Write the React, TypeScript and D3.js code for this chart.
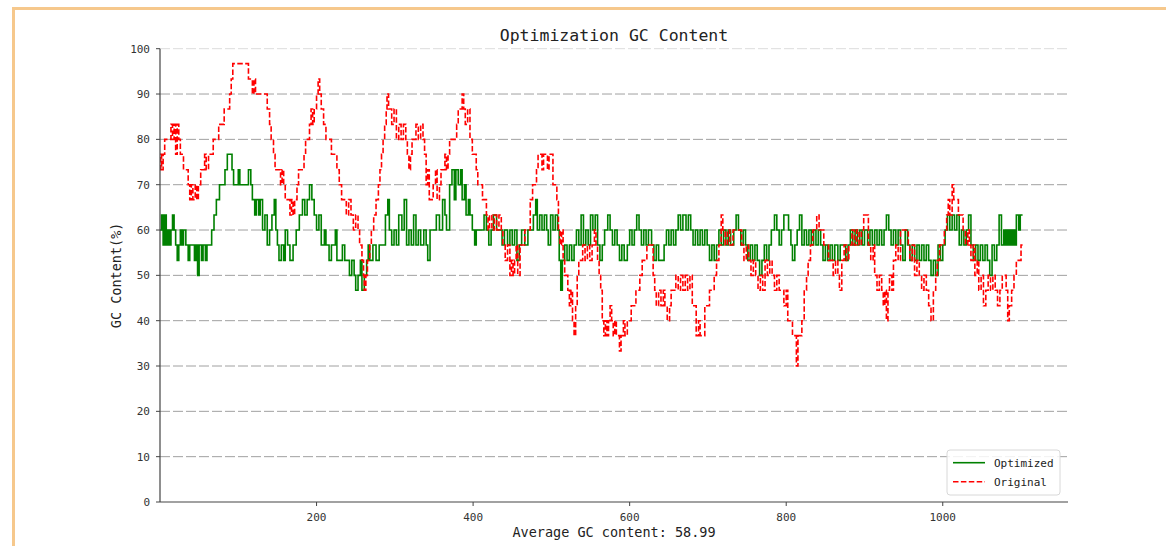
import React from 'react'
import * as d3 from 'd3'

// GC content per window position
const optimized: [number, number][] = [
  [0, 60], [2, 63.3], [4, 56.7], [6, 63.3], [8, 56.7], [10, 60], [12, 56.7], [14, 60], [16, 63.3], [18, 60],
  [20, 56.7], [22, 53.3], [24, 56.7], [26, 60], [28, 56.7], [30, 60], [33, 56.7], [36, 53.3], [38, 56.7], [42, 56.7],
  [44, 53.3], [46, 56.7], [48, 50], [50, 56.7], [53, 53.3], [55, 56.7], [58, 53.3], [60, 56.7], [64, 56.7], [66, 60],
  [69, 63.3], [72, 66.7], [76, 70], [80, 70], [83, 73.3], [86, 76.7], [90, 76.7], [92, 73.3], [94, 70], [98, 70],
  [100, 73.3], [102, 70], [110, 70], [113, 73.3], [116, 70], [118, 66.7], [121, 63.3], [123, 66.7], [126, 63.3], [128, 66.7],
  [131, 60], [134, 63.3], [137, 56.7], [140, 60], [143, 63.3], [146, 66.7], [148, 60], [150, 56.7], [152, 53.3], [155, 56.7],
  [158, 53.3], [160, 60], [163, 56.7], [166, 53.3], [170, 56.7], [174, 60], [178, 63.3], [182, 66.7], [185, 63.3], [188, 66.7],
  [191, 70], [194, 66.7], [197, 63.3], [200, 60], [203, 63.3], [206, 56.7], [210, 60], [212, 56.7], [216, 53.3], [219, 56.7],
  [220, 56.7], [224, 60], [226, 53.3], [230, 53.3], [233, 56.7], [236, 53.3], [240, 53.3], [242, 50], [245, 53.3], [248, 50],
  [250, 46.7], [253, 50], [256, 53.3], [258, 46.7], [261, 50], [264, 53.3], [266, 56.7], [268, 53.3], [272, 56.7], [276, 53.3],
  [280, 56.7], [284, 56.7], [288, 63.3], [291, 66.7], [293, 60], [296, 56.7], [299, 60], [302, 56.7], [305, 63.3], [309, 60],
  [312, 66.7], [315, 56.7], [318, 60], [321, 56.7], [324, 63.3], [327, 56.7], [330, 60], [333, 56.7], [337, 60], [340, 56.7],
  [342, 53.3], [345, 60], [350, 60], [353, 63.3], [357, 60], [361, 66.7], [364, 63.3], [366, 60], [370, 70], [373, 73.3],
  [376, 66.7], [378, 73.3], [381, 70], [384, 73.3], [386, 66.7], [389, 70], [391, 63.3], [394, 66.7], [396, 63.3], [399, 60],
  [402, 56.7], [404, 60], [410, 60], [414, 63.3], [417, 60], [420, 56.7], [423, 60], [426, 63.3], [430, 60], [434, 60],
  [437, 56.7], [440, 60], [444, 56.7], [447, 60], [450, 56.7], [453, 60], [456, 53.3], [459, 56.7], [462, 60], [466, 56.7],
  [470, 60], [474, 60], [477, 63.3], [480, 66.7], [482, 60], [485, 63.3], [488, 60], [491, 63.3], [494, 60], [496, 56.7],
  [499, 63.3], [502, 60], [505, 63.3], [508, 60], [510, 53.3], [512, 46.7], [514, 53.3], [517, 56.7], [520, 53.3], [523, 56.7],
  [526, 53.3], [529, 56.7], [532, 60], [535, 56.7], [538, 63.3], [541, 56.7], [544, 60], [547, 56.7], [550, 63.3], [553, 60],
  [556, 63.3], [559, 56.7], [562, 53.3], [565, 56.7], [568, 60], [572, 63.3], [575, 60], [578, 56.7], [581, 60], [584, 56.7],
  [587, 53.3], [590, 56.7], [593, 53.3], [597, 56.7], [600, 60], [603, 56.7], [606, 60], [609, 63.3], [612, 60], [615, 56.7],
  [618, 60], [621, 56.7], [624, 60], [628, 56.7], [631, 53.3], [634, 56.7], [637, 53.3], [641, 53.3], [644, 56.7], [647, 60],
  [650, 56.7], [653, 60], [656, 56.7], [659, 60], [662, 63.3], [665, 60], [668, 63.3], [672, 60], [675, 63.3], [678, 60],
  [681, 56.7], [684, 60], [687, 56.7], [690, 60], [693, 56.7], [696, 60], [699, 56.7], [702, 53.3], [705, 56.7], [708, 53.3],
  [711, 56.7], [714, 60], [717, 56.7], [720, 60], [723, 56.7], [726, 60], [729, 56.7], [733, 60], [736, 63.3], [739, 60],
  [742, 56.7], [745, 60], [748, 56.7], [751, 53.3], [754, 56.7], [757, 53.3], [760, 56.7], [763, 53.3], [766, 50], [769, 53.3],
  [772, 56.7], [775, 53.3], [778, 56.7], [781, 60], [785, 63.3], [788, 60], [791, 56.7], [794, 60], [797, 63.3], [800, 63.3],
  [803, 60], [806, 56.7], [808, 53.3], [811, 56.7], [814, 60], [817, 63.3], [820, 56.7], [823, 60], [826, 56.7], [829, 60],
  [832, 56.7], [835, 60], [838, 56.7], [841, 60], [844, 56.7], [847, 53.3], [850, 56.7], [853, 53.3], [856, 56.7], [859, 53.3],
  [862, 56.7], [866, 53.3], [869, 56.7], [873, 56.7], [876, 53.3], [879, 56.7], [882, 60], [885, 56.7], [888, 60], [891, 56.7],
  [894, 60], [897, 56.7], [900, 60], [904, 56.7], [907, 60], [910, 56.7], [913, 60], [916, 56.7], [919, 60], [922, 56.7],
  [925, 60], [928, 63.3], [931, 60], [934, 56.7], [937, 60], [940, 56.7], [943, 60], [946, 56.7], [949, 53.3], [952, 60],
  [955, 56.7], [958, 53.3], [961, 56.7], [964, 53.3], [967, 56.7], [970, 53.3], [973, 56.7], [976, 53.3], [979, 56.7], [982, 53.3],
  [985, 50], [988, 53.3], [991, 50], [994, 56.7], [997, 53.3], [1000, 56.7], [1003, 60], [1006, 63.3], [1009, 60], [1012, 63.3],
  [1015, 60], [1018, 63.3], [1021, 56.7], [1024, 60], [1027, 56.7], [1030, 60], [1033, 63.3], [1036, 56.7], [1039, 53.3], [1042, 56.7],
  [1045, 53.3], [1048, 56.7], [1051, 53.3], [1054, 56.7], [1057, 53.3], [1060, 50], [1063, 56.7], [1066, 53.3], [1069, 56.7], [1072, 63.3],
  [1075, 56.7], [1078, 60], [1080, 56.7], [1082, 60], [1084, 56.7], [1086, 60], [1088, 56.7], [1090, 60], [1092, 56.7], [1094, 63.3],
  [1097, 60], [1099, 63.3], [1102, 63.3],
]

const original: [number, number][] = [
  [0, 73.3], [1, 76.7], [2, 73.3], [4, 76.7], [6, 80], [9, 80], [12, 80], [14, 83.3], [16, 80], [18, 83.3],
  [20, 76.7], [22, 83.3], [24, 80], [26, 76.7], [28, 76.7], [30, 73.3], [33, 73.3], [36, 70], [38, 66.7], [40, 70],
  [42, 66.7], [45, 70], [47, 66.7], [49, 70], [52, 73.3], [55, 73.3], [57, 76.7], [59, 73.3], [62, 76.7], [65, 76.7],
  [68, 80], [72, 80], [75, 83.3], [79, 83.3], [82, 86.7], [86, 86.7], [89, 90], [91, 93.3], [93, 96.7], [110, 96.7],
  [113, 93.3], [116, 93.3], [118, 90], [120, 93.3], [122, 90], [134, 90], [137, 86.7], [140, 83.3], [142, 80], [145, 76.7],
  [147, 73.3], [151, 73.3], [154, 70], [156, 73.3], [158, 70], [160, 66.7], [163, 66.7], [166, 63.3], [168, 66.7], [170, 63.3],
  [172, 66.7], [175, 70], [177, 73.3], [181, 73.3], [184, 76.7], [186, 80], [189, 80], [191, 83.3], [193, 86.7], [195, 83.3],
  [197, 86.7], [200, 90], [202, 93.3], [204, 90], [206, 86.7], [209, 83.3], [212, 80], [216, 80], [219, 76.7], [222, 76.7],
  [226, 73.3], [229, 70], [232, 66.7], [235, 66.7], [238, 63.3], [241, 66.7], [244, 63.3], [247, 60], [250, 63.3], [253, 60],
  [255, 56.7], [258, 53.3], [260, 50], [261, 46.7], [263, 50], [265, 53.3], [268, 56.7], [270, 60], [273, 63.3], [276, 66.7],
  [279, 70], [281, 73.3], [283, 76.7], [285, 80], [287, 83.3], [289, 86.7], [290, 90], [292, 86.7], [294, 86.7], [296, 83.3],
  [299, 86.7], [302, 80], [305, 83.3], [308, 80], [311, 83.3], [314, 80], [316, 76.7], [318, 73.3], [320, 76.7], [322, 80],
  [325, 80], [327, 83.3], [330, 80], [333, 83.3], [336, 80], [338, 76.7], [340, 70], [342, 73.3], [344, 66.7], [347, 66.7],
  [349, 70], [352, 73.3], [354, 66.7], [357, 70], [359, 73.3], [362, 73.3], [364, 76.7], [366, 73.3], [368, 76.7], [370, 80],
  [377, 80], [379, 83.3], [381, 86.7], [383, 86.7], [386, 90], [388, 86.7], [390, 83.3], [393, 86.7], [396, 80], [399, 76.7],
  [402, 76.7], [404, 73.3], [406, 70], [409, 70], [412, 66.7], [415, 66.7], [417, 63.3], [419, 60], [421, 63.3], [424, 60],
  [427, 63.3], [430, 60], [433, 63.3], [436, 60], [438, 56.7], [441, 53.3], [444, 56.7], [447, 50], [449, 53.3], [451, 50],
  [453, 53.3], [455, 56.7], [457, 50], [460, 56.7], [463, 56.7], [466, 60], [470, 60], [473, 66.7], [476, 70], [479, 70],
  [481, 73.3], [483, 76.7], [486, 76.7], [488, 73.3], [490, 76.7], [493, 76.7], [495, 73.3], [497, 76.7], [500, 76.7], [502, 70],
  [505, 70], [507, 66.7], [509, 60], [511, 56.7], [513, 60], [515, 53.3], [517, 50], [519, 50], [521, 46.7], [523, 43.3],
  [525, 46.7], [527, 40], [529, 36.7], [531, 43.3], [533, 50], [535, 53.3], [538, 53.3], [540, 56.7], [543, 53.3], [546, 56.7],
  [549, 53.3], [552, 56.7], [555, 60], [557, 56.7], [559, 53.3], [561, 50], [563, 46.7], [565, 40], [567, 36.7], [569, 40],
  [571, 36.7], [573, 40], [575, 43.3], [577, 40], [579, 36.7], [581, 40], [583, 36.7], [585, 36.7], [587, 33.3], [589, 36.7],
  [592, 40], [594, 36.7], [597, 40], [600, 40], [602, 43.3], [605, 43.3], [608, 46.7], [611, 46.7], [613, 50], [616, 53.3],
  [619, 53.3], [622, 56.7], [628, 56.7], [630, 50], [632, 46.7], [634, 43.3], [637, 46.7], [640, 43.3], [643, 46.7], [645, 43.3],
  [648, 40], [651, 43.3], [653, 46.7], [656, 46.7], [659, 50], [662, 46.7], [665, 50], [668, 46.7], [671, 50], [674, 46.7],
  [677, 50], [680, 43.3], [683, 43.3], [685, 36.7], [688, 40], [690, 36.7], [693, 36.7], [696, 43.3], [699, 43.3], [702, 46.7],
  [705, 46.7], [708, 50], [711, 53.3], [714, 56.7], [717, 63.3], [719, 60], [722, 56.7], [725, 60], [728, 56.7], [732, 60],
  [740, 60], [743, 56.7], [746, 53.3], [749, 56.7], [752, 53.3], [755, 50], [758, 53.3], [761, 50], [764, 46.7], [767, 50],
  [770, 46.7], [773, 53.3], [776, 50], [779, 53.3], [782, 50], [785, 46.7], [788, 50], [791, 46.7], [794, 46.7], [797, 43.3],
  [800, 46.7], [802, 40], [805, 40], [808, 36.7], [811, 36.7], [813, 30], [815, 36.7], [818, 36.7], [820, 40], [823, 46.7],
  [826, 50], [828, 53.3], [831, 56.7], [834, 60], [837, 60], [839, 63.3], [842, 60], [845, 60], [848, 56.7], [851, 56.7],
  [854, 53.3], [857, 53.3], [860, 50], [863, 53.3], [866, 50], [868, 46.7], [871, 53.3], [874, 56.7], [877, 53.3], [880, 56.7],
  [884, 60], [887, 56.7], [890, 60], [893, 56.7], [896, 60], [899, 63.3], [902, 63.3], [905, 56.7], [908, 53.3], [911, 56.7],
  [913, 50], [916, 46.7], [919, 50], [922, 46.7], [924, 43.3], [926, 46.7], [928, 40], [930, 46.7], [932, 50], [935, 46.7],
  [937, 53.3], [940, 56.7], [943, 53.3], [946, 60], [953, 60], [956, 56.7], [958, 53.3], [961, 56.7], [964, 50], [967, 53.3],
  [970, 50], [973, 46.7], [976, 50], [979, 46.7], [982, 43.3], [985, 40], [988, 46.7], [991, 50], [993, 53.3], [996, 56.7],
  [999, 56.7], [1002, 60], [1005, 63.3], [1007, 66.7], [1009, 63.3], [1012, 70], [1014, 66.7], [1017, 66.7], [1020, 63.3], [1023, 63.3],
  [1026, 60], [1029, 56.7], [1032, 60], [1034, 56.7], [1036, 53.3], [1039, 56.7], [1041, 50], [1044, 53.3], [1046, 46.7], [1049, 50],
  [1052, 43.3], [1055, 46.7], [1058, 50], [1061, 46.7], [1064, 50], [1067, 46.7], [1070, 43.3], [1073, 46.7], [1076, 50], [1079, 50],
  [1081, 46.7], [1083, 40], [1085, 43.3], [1088, 46.7], [1091, 50], [1094, 53.3], [1097, 53.3], [1100, 56.7], [1102, 56.7],
]

const yTicks = [0, 10, 20, 30, 40, 50, 60, 70, 80, 90, 100]
const xTicks = [200, 400, 600, 800, 1000]
const seriesNames = ['Optimized', 'Original']
const title = 'Optimization GC Content'
const xLabel = 'Average GC content: 58.99'
const yLabel = 'GC Content(%)'

const FONT = '"DejaVu Sans Mono", "Liberation Mono", monospace'

export default function App() {
  const width = 1166
  const height = 546
  const left = 160, right = 1068, top = 48.7, bottom = 502

  const x = d3.scaleLinear().domain([0, 1160]).range([left, right])
  const y = d3.scaleLinear().domain([0, 100]).range([bottom, top])
  // window values change in whole steps, so draw them as a staircase
  const line = d3.line<[number, number]>()
    .x(d => x(d[0]))
    .y(d => y(d[1]))
    .curve(d3.curveStepAfter)

  return (
    <svg width={width} height={height} style={{ position: 'absolute', left: 0, top: 0, background: '#fff' }}>
      {/* frame */}
      <line x1={12} x2={width} y1={8.5} y2={8.5} stroke="#f6c88c" strokeWidth={3} />
      <line x1={13.5} x2={13.5} y1={7} y2={height} stroke="#f6c88c" strokeWidth={3} />

      {/* grid */}
      {yTicks.filter(t => t > 0).map(t => (
        <line key={'g' + t} x1={left} x2={right} y1={y(t)} y2={y(t)}
          stroke={t === 100 ? '#dcdcdc' : '#a0a0a0'} strokeWidth={1} strokeDasharray="10,3" />
      ))}

      {/* series */}
      <path d={line(optimized) || ''} fill="none" stroke="#008000" strokeWidth={1.6} />
      <path d={line(original) || ''} fill="none" stroke="#ff0000" strokeWidth={1.6} strokeDasharray="5.5,2.4" />

      {/* axes */}
      <line x1={left} x2={left} y1={top} y2={bottom} stroke="#444" strokeWidth={1.2} />
      <line x1={left} x2={right} y1={bottom} y2={bottom} stroke="#444" strokeWidth={1.2} />
      {yTicks.map(t => (
        <g key={'y' + t}>
          <line x1={left - 4} x2={left} y1={y(t)} y2={y(t)} stroke="#444" />
          <text x={150} y={y(t)} dy="0.35em" textAnchor="end" fontFamily={FONT} fontSize={11} fill="#333">{t}</text>
        </g>
      ))}
      {xTicks.map(t => (
        <g key={'x' + t}>
          <line x1={x(t)} x2={x(t)} y1={bottom} y2={bottom + 4} stroke="#444" />
          <text x={x(t)} y={521} textAnchor="middle" fontFamily={FONT} fontSize={11} fill="#333">{t}</text>
        </g>
      ))}

      {/* labels */}
      <text x={(left + right) / 2} y={41} textAnchor="middle" fontFamily={FONT} fontSize={16.5} fill="#222">{title}</text>
      <text x={(left + right) / 2} y={537} textAnchor="middle" fontFamily={FONT} fontSize={13.5} fill="#222">{xLabel}</text>
      <text transform={`translate(121,${(top + bottom) / 2}) rotate(-90)`} textAnchor="middle"
        fontFamily={FONT} fontSize={13.5} fill="#222">{yLabel}</text>

      {/* legend */}
      <rect x={947} y={450} width={113} height={45} rx={3} fill="#fff" fillOpacity={0.85} stroke="#d8d8d8" />
      <line x1={953} x2={985} y1={462.7} y2={462.7} stroke="#008000" strokeWidth={1.6} />
      <line x1={953} x2={985} y1={481.7} y2={481.7} stroke="#ff0000" strokeWidth={1.6} strokeDasharray="5.5,2.4" />
      <text x={994} y={462.7} dy="0.35em" fontFamily={FONT} fontSize={11} fill="#222">{seriesNames[0]}</text>
      <text x={994} y={481.7} dy="0.35em" fontFamily={FONT} fontSize={11} fill="#222">{seriesNames[1]}</text>
    </svg>
  )
}
